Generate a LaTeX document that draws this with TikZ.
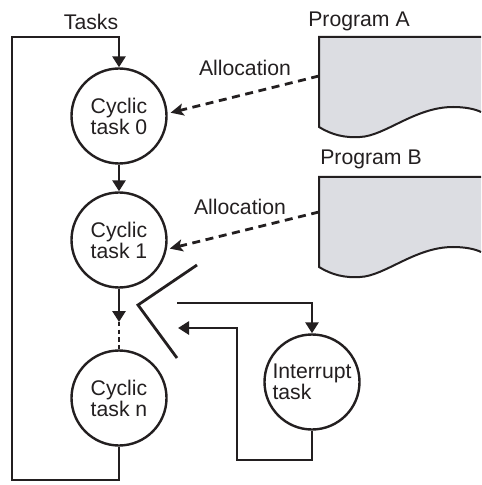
\documentclass[tikz,border=0pt]{standalone}
\usepackage{fontspec}
\setmainfont{Liberation Sans}
\usetikzlibrary{arrows.meta}
\definecolor{progfill}{HTML}{DCDDE2}
\definecolor{ink}{HTML}{231F20}
\begin{document}
\begin{tikzpicture}[x=0.5pt,y=-0.5pt,
  every node/.style={font=\fontsize{10.6}{10.5}\selectfont, text=ink},
  task/.style={circle, draw=ink, line width=1.2pt, minimum size=47.5pt, inner sep=0pt, align=center},
  flow/.style={draw=ink, line width=1.4pt},
  arr/.style={flow, -{Triangle[length=5.5pt,width=6.5pt]}},
  alloc/.style={draw=ink, line width=1.4pt, dash pattern=on 4pt off 2.8pt, -{Stealth[length=6.5pt,width=6pt,inset=1.5pt]}, shorten >=1.5pt},
  prog/.style={draw=ink, line width=1pt},
  lbl/.style={inner sep=0pt}]
\useasboundingbox (0,0) rectangle (481,485);

% program documents
\fill[progfill] (481,37) -- (319,37) -- (319,127) .. controls (332,135) and (345,138) .. (360,137) .. controls (385,136) and (415,107) .. (453,107) .. controls (465,107) and (475,109) .. (481,112) -- cycle;
\draw[prog] (481,37) -- (319,37) -- (319,127) .. controls (332,135) and (345,138) .. (360,137) .. controls (385,136) and (415,107) .. (453,107) .. controls (465,107) and (475,109) .. (481,112);
\fill[progfill] (481,177) -- (319,177) -- (319,267) .. controls (332,275) and (345,278) .. (360,277) .. controls (385,276) and (415,247) .. (453,247) .. controls (465,247) and (475,249) .. (481,252) -- cycle;
\draw[prog] (481,177) -- (319,177) -- (319,267) .. controls (332,275) and (345,278) .. (360,277) .. controls (385,276) and (415,247) .. (453,247) .. controls (465,247) and (475,249) .. (481,252);
\coordinate (pa) at (319,76);
\coordinate (pb) at (319,212);

\node[lbl] (progA) at (359,21) {Program A};
\node[lbl] (progB) at (371,159) {Program B};
\node[lbl] (tasks) at (91,22) {Tasks};
\node[lbl] (allocA) at (245,68) {Allocation};
\node[lbl] (allocB) at (240,207) {Allocation};

% task circles
\node[task] (c0) at (119,116) {Cyclic\\task 0};
\node[task] (c1) at (119,240) {Cyclic\\task 1};
\node[task] (cn) at (119,398) {Cyclic\\task n};
\node[task, align=left] (it) at (312,382) {Interrupt\\task};

% main loop
\coordinate (bl) at (12,480);
\coordinate (tl) at (12,37);
\draw[arr] (cn.south) |- (bl) -- (tl) -| (c0.north);
\draw[arr] (c0) -- (c1);
\coordinate (dots) at (119,322);
\draw[arr] (c1.south) -- (dots);
\draw[draw=ink, line width=1.4pt, dash pattern=on 2.2pt off 1.6pt] (dots) -- (cn.north);

% allocations
\draw[alloc] (pa) -- (c0.3);
\draw[alloc] (pb) -- (c1.-11);

% switch
\coordinate (swa) at (197,265);
\coordinate (swb) at (138,305);
\coordinate (swc) at (177,358);
\draw[flow] (swa) -- (swb) -- (swc);

% interrupt path
\coordinate (o1) at (177,303);
\draw[arr] (o1) -| (it.north);
\coordinate (rb) at (237,460);
\coordinate (ri) at (178,328);
\draw[arr] (it.south) |- (rb) |- (ri);
\end{tikzpicture}
\end{document}
